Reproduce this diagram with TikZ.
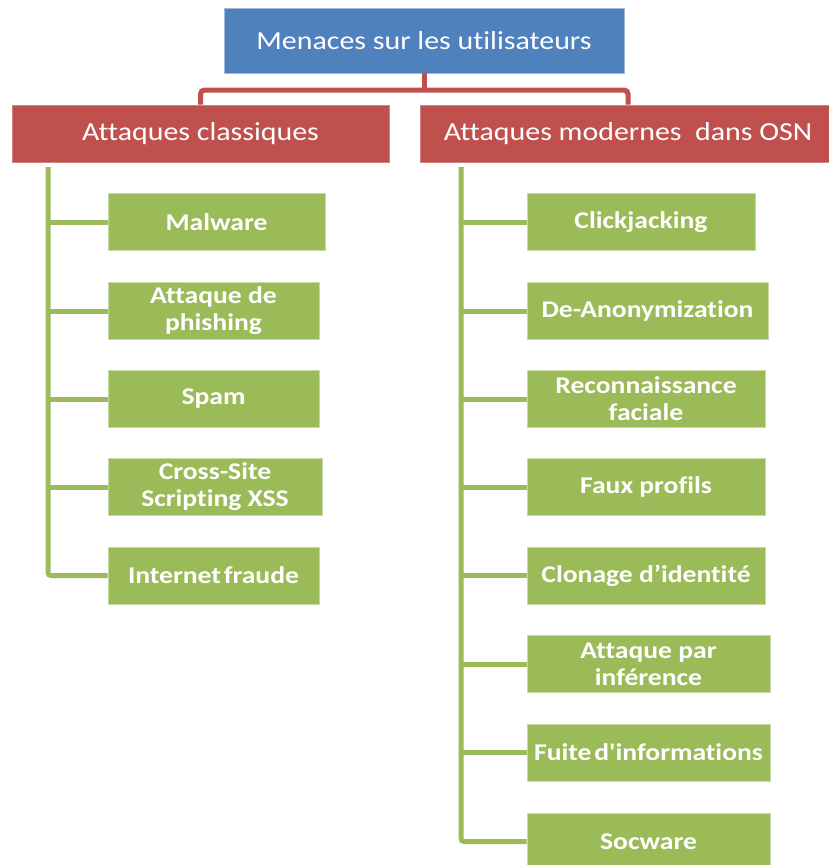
\documentclass[tikz,border=0pt]{standalone}
\usepackage{fontspec}
\setmainfont{Carlito}[FakeStretch=1.15, Ligatures={NoCommon,TeXOff}]
\definecolor{topblue}{HTML}{4F81BD}
\definecolor{catred}{HTML}{C0504D}
\definecolor{leafgreen}{HTML}{9BBB59}
\begin{document}
\begin{tikzpicture}[x=1pt,y=-1pt,
  rootbox/.style={fill=topblue, draw=topblue!55!white, line width=0.8pt, text=white,
    minimum height=65pt, inner sep=0pt, font=\fontsize{26}{30}\selectfont},
  catbox/.style={fill=catred, draw=catred!70!white, line width=0.8pt, text=white,
    minimum height=57pt, inner sep=0pt, font=\fontsize{26}{30}\selectfont},
  leafbox/.style={fill=leafgreen, draw=leafgreen!55!white, line width=0.8pt, text=white,
    minimum height=57pt, inner sep=0pt, align=center,
    font=\bfseries\fontsize{24}{27}\selectfont},
  redlink/.style={draw=catred, line width=5pt, rounded corners=4pt},
  greenlink/.style={draw=leafgreen, line width=5pt, rounded corners=3pt},
]
\clip (0,0) rectangle (829,865);
\fill[white] (0,0) rectangle (829,865);

% root and the two categories
\node[rootbox, minimum width=400pt] (root) at (424,40.5) {Menaces sur les utilisateurs};
\node[catbox, minimum width=377pt] (classic) at (200.5,133.5) {Attaques classiques};
\node[catbox, minimum width=416pt] (modern) at (628,133.5) {Attaques modernes\ \ dans OSN};

\coordinate (bar) at (424,90);
\draw[redlink] (classic.north) |- (bar) -| (modern.north);
\draw[redlink] (root.south) -- (bar);

% classic attacks
\node[leafbox, minimum width=217pt] (malware) at (216.5,222) {Malware};
\node[leafbox, minimum width=211pt] (phishing) at (213.5,311) {Attaque de\\phishing};
\node[leafbox, minimum width=211pt] (spam) at (213.5,399) {Spam};
\node[leafbox, minimum width=214pt] (xss) at (215,487) {Cross-Site\\Scripting XSS};
\node[leafbox, minimum width=211pt] (fraud) at (213.5,575.5) {Internet\hspace{0.12em}fraude};

% modern attacks
\node[leafbox, minimum width=228pt] (click) at (641,222) {Clickjacking};
\node[leafbox, minimum width=241pt] (deanon) at (647.5,311) {De-Anonymization};
\node[leafbox, minimum width=238pt] (face) at (646,399) {Reconnaissance\\faciale};
\node[leafbox, minimum width=238pt] (fake) at (646,487) {Faux profils};
\node[leafbox, minimum width=238pt] (clone) at (646,575.5) {Clonage d’identité};
\node[leafbox, minimum width=243pt] (infer) at (648.5,664) {Attaque par\\inférence};
\node[leafbox, minimum width=243pt] (leak) at (648.5,752.5) {Fuite\hspace{0.12em}d'informations};
\node[leafbox, minimum width=243pt] (socware) at (648.5,841.5) {Socware};

% trunks
\coordinate (ltrunk) at (48,167);
\coordinate (rtrunk) at (461,167);
\draw[greenlink] (ltrunk) |- (fraud.west);
\foreach \n in {malware,phishing,spam,xss}
  \draw[greenlink] (ltrunk |- \n.west) -- (\n.west);
\draw[greenlink] (rtrunk) |- (socware.west);
\foreach \n in {click,deanon,face,fake,clone,infer,leak}
  \draw[greenlink] (rtrunk |- \n.west) -- (\n.west);
\end{tikzpicture}
\end{document}
